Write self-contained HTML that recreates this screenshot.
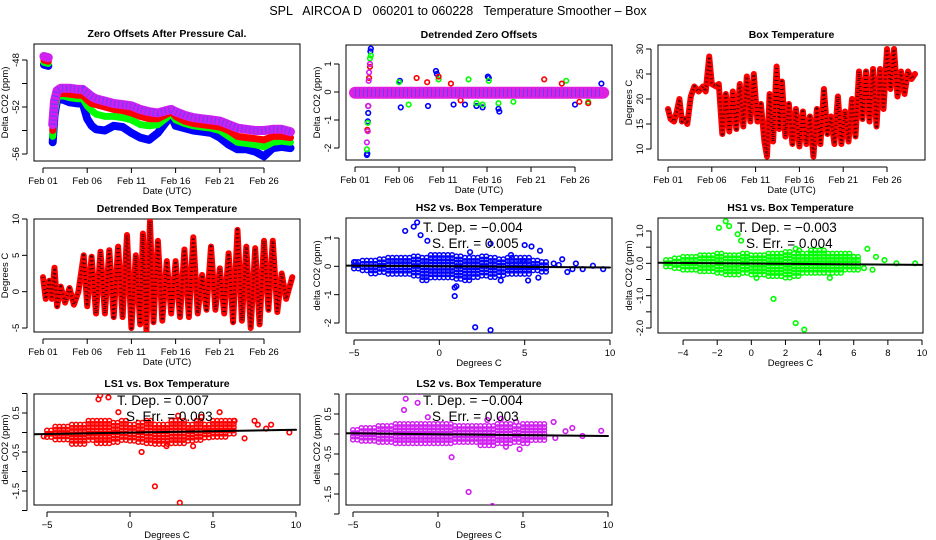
<!DOCTYPE html>
<html><head><meta charset="utf-8"><style>
body{margin:0;background:#fff}
svg{display:block;font-family:"Liberation Sans",sans-serif}
.t{font-weight:bold;font-size:10.5px}
.tk{font-size:9.5px}
</style></head><body>
<svg id="s" width="936" height="540" viewBox="0 0 936 540">
<text x="458" y="15" text-anchor="middle" font-size="12.5" xml:space="preserve">SPL   AIRCOA D   060201 to 060228   Temperature Smoother – Box</text>
</svg>
<script>
// ---- Panel 1: zero offsets ----
const p1Days=[0.1,0.6,1.1,1.3,1.6,2,3,4,4.5,5,5.5,6,7,8,9,10,11,12,13,14,14.5,15,16,17,18,19,20,21,22,23,24,25,26,27,28];
const p1Magenta=[-47.7,-47.8,-53.5,-51.5,-50.6,-50.4,-50.4,-50.5,-50.5,-50.8,-51.1,-51.3,-51.5,-51.7,-51.8,-51.9,-52.2,-52.4,-52.5,-52.3,-52.2,-52.4,-52.7,-52.9,-53,-53.1,-53.2,-53.5,-53.8,-53.9,-54,-54,-53.9,-53.9,-54.1];
const p1Red=[-48,-48.1,-54,-52,-51,-50.8,-50.9,-51,-51,-51.4,-51.7,-51.8,-52,-52.2,-52.3,-52.5,-52.8,-53,-53,-52.6,-52.4,-52.8,-53.2,-53.4,-53.5,-53.6,-53.7,-54,-54.5,-54.6,-54.7,-54.8,-54.5,-54.5,-54.6];
const p1Green=[-48.2,-48.3,-54.5,-52.5,-51.2,-51,-51.2,-51.3,-51.3,-51.9,-52.3,-52.6,-52.8,-52.8,-52.9,-53.1,-53.5,-53.6,-53.5,-52.9,-52.5,-53.1,-53.4,-53.6,-53.7,-53.8,-54,-54.5,-55,-55.1,-55.2,-55.4,-55,-54.9,-55];
const p1Blue=[-48.4,-48.5,-55,-52.7,-51.4,-51.3,-51.6,-51.7,-51.7,-53,-53.6,-53.9,-54,-53.6,-53.7,-54.2,-54.6,-54.8,-54.2,-53.2,-52.7,-53.6,-53.8,-54,-54.1,-54.2,-54.6,-55.2,-55.6,-55.6,-55.8,-56.2,-55.5,-55.4,-55.5];
// ---- Panel 2: detrended offsets ----
const p2BandDays=[0,28.2];
const p2BandVals=[-0.03,-0.03];
const p2BlueX=[1.35,1.4,1.45,1.5,1.75,1.8,9.2,9.3,15.1,15.2,16.3,16.4,5.2,13.8,12.5,11.2,8.3,14.5,25,5.1,28];
const p2BlueY=[-2.25,-2.2,-1.05,-0.75,1.45,1.55,0.75,0.65,0.55,0.5,-0.6,-0.7,-0.55,-0.5,-0.45,-0.45,-0.5,-0.55,-0.45,0.4,0.3];
const p2GreenX=[1.35,1.45,1.7,1.8,15.2,12.9,16.3,6.1,13.8,14.5,18,24,26.5,5,9.5];
const p2GreenY=[-2.05,-1.1,1.2,1.3,0.4,0.45,-0.4,-0.45,-0.4,-0.45,-0.35,0.4,-0.35,0.35,0.45];
const p2RedX=[1.4,1.5,1.6,1.7,7,8.2,9.5,10.9,12,21.5,23.5,25.5,26.5,1.45];
const p2RedY=[-1.35,-0.5,0.5,0.9,0.5,0.35,0.55,0.3,-0.3,0.45,0.3,-0.35,-0.4,0];
const p2MagX=[1.35,1.45,1.5,1.55,1.6,1.7];
const p2MagY=[-1.8,-1.4,-0.5,0.4,0.7,1.0];
// ---- Panel 3: box temperature (alternating trough/peak) ----
const p3Days=[0,0.3,0.7,1,1.3,1.6,1.9,2.2,2.6,3,3.5,4,4.3,4.7,5,5.5,5.8,6.2,6.6,7,7.4,7.8,8.2,8.6,9,9.4,9.8,10.2,10.6,11,11.3,11.6,12,12.4,12.7,13,13.4,13.8,14.2,14.6,15,15.4,15.8,16.2,16.6,17,17.4,17.8,18.2,18.6,19,19.4,19.8,20.2,20.6,21,21.4,21.8,22.2,22.6,23,23.4,23.8,24.2,24.6,25,25.4,25.8,26.2,26.6,27,27.4,27.8,28.2];
const p3Temp=[18,16,15.5,17.5,20,15.5,16,15,20.5,22.5,21.5,22.5,21.5,28.5,23,22.5,23,13,21,13.5,21.5,14,23,14.5,24.5,15.5,25,15.5,19,11.5,8.5,21,11.5,26.5,14,23.5,12.5,19,11,18,10.5,17.5,11,16.5,8.5,18,11,22,13,16.5,11,20.5,11,17.5,11.5,20,12.5,25.5,16,25.5,15.5,26,14.5,26,18,30,22,30,20.5,25.5,21,25.5,24,25];
// ---- Panel 4: detrended box temperature ----
const p4Days=[0,0.3,0.7,1,1.3,1.6,2,2.5,3,3.5,4,4.6,5,5.5,6,6.5,7,7.5,8,8.5,9,9.5,10,10.5,11,11.3,11.7,12.1,12.5,13,13.5,14,14.5,15,15.5,16,16.5,17,17.5,18,18.5,19,19.5,20,20.5,21,21.5,22,22.5,23,23.5,24,24.5,25,25.5,26,26.5,27,27.5,28.2];
const p4Temp=[2,-1,1.5,-1,3.3,-2,0.7,-1.5,0.5,-1.8,0,5,-2,4.8,-3,5.5,-3,5.7,-3.5,6.2,-3.5,7.8,-5,5,-4.5,8,-5.3,9.7,-4.2,7,-4,4.2,-3,4.2,-3.5,5.8,-3.5,7.5,-3,2.3,-2.5,6.2,-2.5,3.2,-3,5.3,-4.2,8.5,-4,6.2,-5,6,-4.5,7,-2.5,7,-2.8,2.5,-1,2];
// ---- Scatter panels ----
const cloudX=[-5,-4.5,-4,-3.5,-3,-2.5,-2,-1.5,-1,-0.5,0,0.5,1,1.5,2,2.5,3,3.5,4,4.5,5,5.5,6];
const hs2Hi=[0.15,0.2,0.2,0.25,0.3,0.3,0.3,0.35,0.3,0.4,0.4,0.4,0.35,0.3,0.3,0.35,0.3,0.25,0.3,0.3,0.3,0.2,0.15];
const hs2Lo=[-0.1,-0.2,-0.3,-0.25,-0.3,-0.3,-0.35,-0.35,-0.5,-0.5,-0.45,-0.45,-0.45,-0.5,-0.45,-0.4,-0.45,-0.4,-0.3,-0.3,-0.3,-0.25,-0.2];
const hs2X=[-2,-1.5,-1.3,-1.1,-0.7,0.9,0.9,1,2.1,3,3,1.8,5,5.4,5.9,5.8,5.2,6.7,7.2,7.5,7.8,8,8.4,9,9.6,3.6,4.2,4.9,7,-4.9];
const hs2Y=[1.25,1.4,1.55,1.1,0.9,-0.75,-1.05,-0.7,-2.15,-2.25,0.8,0.5,0.75,0.7,0.55,-0.4,-0.5,0.1,0.25,-0.2,-0.1,0.1,-0.1,0.02,-0.1,-0.5,0.4,0.2,0.05,0.15];
const hs1Hi=[0.1,0.15,0.2,0.2,0.25,0.25,0.3,0.25,0.25,0.3,0.25,0.25,0.3,0.3,0.35,0.3,0.3,0.4,0.4,0.3,0.3,0.3,0.2];
const hs1Lo=[-0.1,-0.2,-0.25,-0.25,-0.3,-0.3,-0.35,-0.35,-0.35,-0.35,-0.4,-0.4,-0.4,-0.45,-0.45,-0.4,-0.35,-0.35,-0.35,-0.3,-0.3,-0.25,-0.2];
const hs1X=[-1.9,-1.5,-1.3,-0.8,-0.6,1.3,2.6,3.1,2.6,6.8,7.1,7.3,7.8,8.5,9.6,6.6,0.3,4.6,6,2.8];
const hs1Y=[1.1,1.3,1.15,0.9,0.7,-1.1,-1.85,-2.05,0.45,0.45,-0.2,0.2,0.1,0,0,-0.15,-0.45,-0.45,0.2,0.4];
const ls1Hi=[0.05,0.15,0.15,0.2,0.2,0.3,0.3,0.3,0.25,0.3,0.2,0.25,0.3,0.2,0.2,0.3,0.3,0.2,0.3,0.2,0.3,0.3,0.3];
const ls1Lo=[-0.15,-0.2,-0.25,-0.3,-0.3,-0.25,-0.3,-0.3,-0.3,-0.25,-0.25,-0.3,-0.3,-0.3,-0.3,-0.3,-0.3,-0.25,-0.25,-0.2,-0.15,-0.15,-0.1];
const ls1X=[-1.8,-1.9,-1.3,-0.7,5.4,0.7,1.5,3,4.3,2.9,7.5,8.5,9.6,6.9,-5.2,3.8,2.2,6.3,7.7,8.2];
const ls1Y=[0.95,0.85,0.9,0.52,0.52,-0.5,-1.38,-1.8,0.4,0.43,0.3,0.2,0,-0.15,-0.1,-0.35,-0.35,0.3,0.2,0.1];
const ls2Hi=[0.1,0.15,0.15,0.2,0.2,0.25,0.25,0.25,0.25,0.25,0.25,0.25,0.2,0.2,0.2,0.2,0.2,0.25,0.25,0.2,0.25,0.25,0.25];
const ls2Lo=[-0.15,-0.2,-0.2,-0.25,-0.25,-0.3,-0.3,-0.25,-0.25,-0.25,-0.25,-0.25,-0.25,-0.25,-0.25,-0.3,-0.3,-0.25,-0.3,-0.25,-0.25,-0.2,-0.2];
const ls2X=[-2,-1.9,-1.2,-1.1,-0.6,0.8,1.8,3.2,2.9,3.7,4.6,6.8,6.9,7.5,7.9,8.5,9.6,4.8,4];
const ls2Y=[0.6,0.88,0.78,1.05,0.42,-0.58,-1.45,-1.8,0.35,0.38,0.3,0.3,-0.1,0.07,0.15,-0.05,0.08,-0.38,-0.32];
const fitX=[-6,10];
const hs2Fit=[0.03,-0.04];
const hs1Fit=[0.02,-0.05];
const ls1Fit=[-0.045,0.07];
const ls2Fit=[0.02,-0.05];
const dateTicks=[0,5,10,15,20,25];
const dateLabels=["Feb 01","Feb 06","Feb 11","Feb 16","Feb 21","Feb 26"];

const S=document.getElementById('s');const NS='http://www.w3.org/2000/svg';
function mk(tag,at,parent){const e=document.createElementNS(NS,tag);for(const k in at)e.setAttribute(k,at[k]);(parent||S).appendChild(e);return e;}
function lin(d0,d1,r0,r1){return v=>r0+(v-d0)*(r1-r0)/(d1-d0);}
function panel(name,box,title,xs,ys,xt,xl,yt,yl,xlab,ylab){
  const g=mk('g',{});
  
  
  const [l,t,r,b]=box;
  const fr=mk('rect',{x:l,y:t,width:r-l,height:b-t,fill:'none',stroke:'#000','stroke-width':1},g);
  
  
  const tt=mk('text',{x:(l+r)/2,y:t-7,'text-anchor':'middle',class:'t'},g);tt.textContent=title;
  
  
  const xa=mk('g',{},g);
  
  
  mk('line',{x1:xs(xt[0]),x2:xs(xt[xt.length-1]),y1:b+7,y2:b+7,stroke:'#000'},xa);
  xt.forEach((v,i)=>{mk('line',{x1:xs(v),x2:xs(v),y1:b+7,y2:b+12,stroke:'#000'},xa);
    if(xl[i]!==''){const tx=mk('text',{x:xs(v),y:b+23,'text-anchor':'middle',class:'tk'},xa);tx.textContent=xl[i];
    
    }});
  const xT=mk('text',{x:(l+r)/2,y:b+33,'text-anchor':'middle',class:'tk'},xa);xT.textContent=xlab;
  
  
  const ya=mk('g',{},g);
  
  
  mk('line',{x1:l-7,x2:l-7,y1:ys(yt[0]),y2:ys(yt[yt.length-1]),stroke:'#000'},ya);
  yt.forEach((v,i)=>{mk('line',{x1:l-12,x2:l-7,y1:ys(v),y2:ys(v),stroke:'#000'},ya);
    if(yl[i]!==''){const tx=mk('text',{x:0,y:0,'text-anchor':'middle',class:'tk',transform:`translate(${l-15},${ys(v)}) rotate(-90)`},ya);tx.textContent=yl[i];
    
    }});
  const yT=mk('text',{x:0,y:0,'text-anchor':'middle',class:'tk',transform:`translate(${l-26},${(t+b)/2}) rotate(-90)`},ya);yT.textContent=ylab;
  
  
  const clip='c'+name;const cp=mk('clipPath',{id:clip},g);mk('rect',{x:l,y:t,width:r-l,height:b-t},cp);
  const data=mk('g',{'clip-path':`url(#${clip})`},g);
  
  
  return data;
}
function poly(g,xs,ys,X,Y,col,w,name,dash){
  const pts=X.map((x,i)=>xs(x).toFixed(1)+','+ys(Y[i]).toFixed(1)).join(' ');
  const p=mk('polyline',{points:pts,fill:'none',stroke:col,'stroke-width':w,'stroke-linejoin':'round','stroke-linecap':'round'},g);
  if(dash){p.setAttribute('stroke-dasharray',dash);p.setAttribute('stroke-linecap','butt');}
  
  
  return p;
}
function pts(g,xs,ys,X,Y,col,name){
  X.forEach((x,i)=>{const c=mk('circle',{cx:xs(x),cy:ys(Y[i]),r:2.3,fill:'none',stroke:col,'stroke-width':1.6},g);
  
  });
}
function cloud(g,xs,ys,col,hi,lo,name){
  const gg=mk('g',{},g);
  
  
  cloudX.forEach((cx,i)=>{for(let k=0;k<2;k++){const xv=cx+k*0.25;
    for(let py=ys(hi[i]);py<=ys(lo[i]);py+=3.2){mk('circle',{cx:xs(xv),cy:py,r:2.3,fill:'none',stroke:col,'stroke-width':1.5},gg);}}});
}
function note(g,x,y,a,b){
  const t1=mk('text',{x:x,y:y,'font-size':13.5},g);t1.textContent=a;t1.setAttribute('xml:space','preserve');
  
  
  const t2=mk('text',{x:x+9,y:y+16,'font-size':13.5},g);t2.textContent=b;
  
  
}
// Panel 1
{const xs=lin(0,25,43,264),ys=lin(-48,-56,60,154);
 const g=panel('zero-offsets-panel',[34,44,300,161],'Zero Offsets After Pressure Cal.',xs,ys,dateTicks,dateLabels,[-48,-50,-52,-54,-56],['-48','','-52','','-56'],'Date (UTC)','Delta CO2 (ppm)');
 [[p1Blue,'#0000ff',8,'series-blue'],[p1Green,'#00ff00',7,'series-green'],[p1Red,'#ff0000',7,'series-red'],[p1Magenta,'#d020f0',9,'series-magenta']].forEach(s=>{
  poly(g,xs,ys,p1Days.slice(0,2),s[0].slice(0,2),s[1],s[2],s[3]);
  poly(g,xs,ys,p1Days.slice(2),s[0].slice(2),s[1],s[2],s[3]);});
 poly(g,xs,ys,p1Days.slice(2),p1Magenta.slice(2),'#6040ff',7,'series-magenta-checker','1 3');}
// Panel 2
{const xs=lin(0,25,355,575),ys=lin(1,-2,64,148);
 const g=panel('detrended-offsets-panel',[346,45,612,160],'Detrended Zero Offsets',xs,ys,dateTicks,dateLabels,[-2,-1,0,1],['-2','-1','0','1'],'Date (UTC)','Delta CO2 (ppm)');
 pts(g,xs,ys,p2BlueX,p2BlueY,'#0000ff','blue-point');
 pts(g,xs,ys,p2GreenX,p2GreenY,'#00ff00','green-point');
 pts(g,xs,ys,p2RedX,p2RedY,'#ff0000','red-point');
 poly(g,xs,ys,p2BandDays,p2BandVals,'#e020e0',12,'series-magenta-band');
 poly(g,xs,ys,p2BandDays,p2BandVals,'#6040ff',8,'series-blue-band','1 3');
 pts(g,xs,ys,p2MagX,p2MagY,'#d020f0','magenta-point');}
// Panel 3
{const xs=lin(0,25,668,887),ys=lin(30,10,49,149);
 const g=panel('box-temperature-panel',[658,45,925,160],'Box Temperature',xs,ys,dateTicks,dateLabels,[10,15,20,25,30],['10','15','20','25','30'],'Date (UTC)','Degrees C');
 poly(g,xs,ys,p3Days,p3Temp,'#ff0000',6,'temperature-series');
 poly(g,xs,ys,p3Days,p3Temp,'#400000',3,'temperature-series-dots','1 3');}
// Panel 4
{const xs=lin(0,25,43,264),ys=lin(10,-5,219,328);
 const g=panel('detrended-temperature-panel',[34,219,300,332],'Detrended Box Temperature',xs,ys,dateTicks,dateLabels,[-5,0,5,10],['-5','0','5','10'],'Date (UTC)','Degrees C');
 poly(g,xs,ys,p4Days,p4Temp,'#ff0000',6,'detrended-temperature-series');
 poly(g,xs,ys,p4Days,p4Temp,'#400000',3,'detrended-temperature-dots','1 3');}
function scatter(name,box,title,xr,yr,xt,xl,yt,yl,col,hi,lo,X,Y,fit,a,b,nx,ny){
 const xs=lin(xr[0],xr[1],xr[2],xr[3]),ys=lin(yr[0],yr[1],yr[2],yr[3]);
 const g=panel(name,box,title,xs,ys,xt,xl,yt,yl,'Degrees C','delta CO2 (ppm)');
 cloud(g,xs,ys,col,hi,lo,'point-cloud');
 pts(g,xs,ys,X,Y,col,'scatter-point');
 poly(g,xs,ys,fitX,fit,'#000',2,'fit-line');
 note(g.parentNode,nx,ny,a,b);
}
scatter('hs2-panel',[346,218,612,333],'HS2 vs. Box Temperature',[-5,10,354,610],[1,-2,238,323],[-5,0,5,10],['−5','0','5','10'],[-2,-1,0,1],['-2','-1','0','1'],'#0000ff',hs2Hi,hs2Lo,hs2X,hs2Y,hs2Fit,'T. Dep. =  −0.004','S. Err. = 0.005',423,232);
scatter('hs1-panel',[658,218,923,333],'HS1 vs. Box Temperature',[-5,10,666,922],[1,-2,231,328],[-4,-2,0,2,4,6,8,10],['−4','−2','0','2','4','6','8','10'],[-2,-1.5,-1,-0.5,0,0.5,1],['-2.0','','-1.0','','0.0','','1.0'],'#00ff00',hs1Hi,hs1Lo,hs1X,hs1Y,hs1Fit,'T. Dep. =  −0.003','S. Err. = 0.004',737,232);
scatter('ls1-panel',[34,394,300,505],'LS1 vs. Box Temperature',[-5,10,47,296],[0.5,-1.5,413,491],[-5,0,5,10],['−5','0','5','10'],[-2,-1.5,-1,-0.5,0,0.5,1],['','-1.5','','-0.5','','0.5',''],'#ff0000',ls1Hi,ls1Lo,ls1X,ls1Y,ls1Fit,'T. Dep. =  0.007','S. Err. = 0.003',117,405);
scatter('ls2-panel',[346,394,612,505],'LS2 vs. Box Temperature',[-5,10,353,608],[0.5,-1.5,414,494],[-5,0,5,10],['−5','0','5','10'],[-2,-1.5,-1,-0.5,0,0.5,1],['','-1.5','','-0.5','','0.5',''],'#d020f0',ls2Hi,ls2Lo,ls2X,ls2Y,ls2Fit,'T. Dep. =  −0.004','S. Err. = 0.003',423,405);
</script>
</body></html>
